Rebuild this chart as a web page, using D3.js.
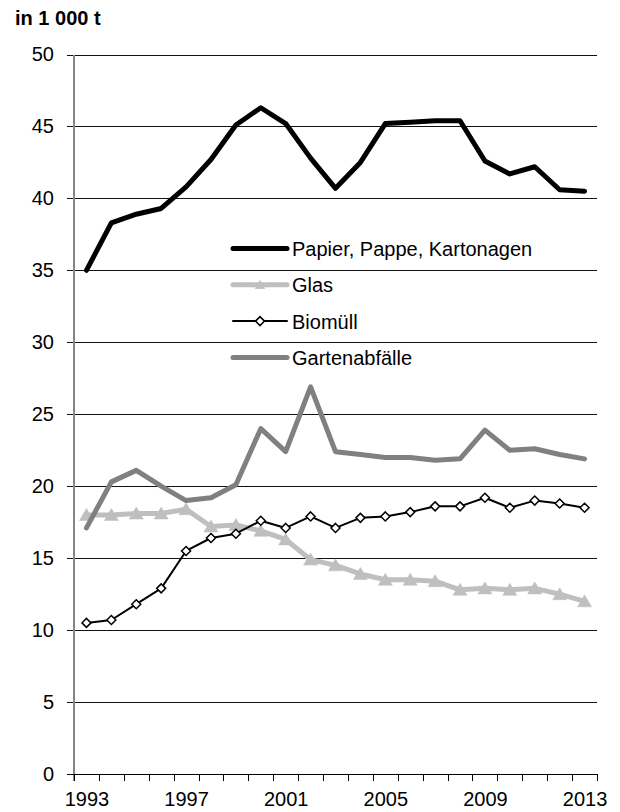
<!DOCTYPE html>
<html>
<head>
<meta charset="utf-8">
<script src="https://cdn.jsdelivr.net/npm/d3@7"></script>
<style>
  html, body { margin: 0; padding: 0; background: #fff; }
  svg { display: block; font-family: "Liberation Sans", Arial, sans-serif; }
</style>
</head>
<body>
<svg id="chart" width="620" height="812"></svg>
<script>
// Years on the category axis
const years = d3.range(1993, 2014);
const yearLabels = [1993, 1997, 2001, 2005, 2009, 2013];
const yTicks = [0, 5, 10, 15, 20, 25, 30, 35, 40, 45, 50];

// Collected quantities, in 1 000 t
const papier = [35.0, 38.3, 38.9, 39.3, 40.8, 42.7, 45.1, 46.3, 45.2, 42.8, 40.7,
                42.5, 45.2, 45.3, 45.4, 45.4, 42.6, 41.7, 42.2, 40.6, 40.5];
const glas = [18.0, 18.0, 18.1, 18.1, 18.4, 17.2, 17.3, 16.9, 16.3, 14.9, 14.5,
              13.9, 13.5, 13.5, 13.4, 12.8, 12.9, 12.8, 12.9, 12.5, 12.0];
const biomuell = [10.5, 10.7, 11.8, 12.9, 15.5, 16.4, 16.7, 17.6, 17.1, 17.9, 17.1,
                  17.8, 17.9, 18.2, 18.6, 18.6, 19.2, 18.5, 19.0, 18.8, 18.5];
const garten = [17.1, 20.3, 21.1, 20.0, 19.0, 19.2, 20.1, 24.0, 22.4, 26.9, 22.4,
                22.2, 22.0, 22.0, 21.8, 21.9, 23.9, 22.5, 22.6, 22.2, 21.9];

const seriesNames = ["Papier, Pappe, Kartonagen", "Glas", "Biomüll", "Gartenabfälle"];

const series = [
  { name: seriesNames[0], values: papier,   color: "#000000", width: 5,   marker: null },
  { name: seriesNames[1], values: glas,     color: "#bfbfbf", width: 5,   marker: "triangle" },
  { name: seriesNames[2], values: biomuell, color: "#000000", width: 2,   marker: "diamond" },
  { name: seriesNames[3], values: garten,   color: "#808080", width: 5,   marker: null }
];

const svg = d3.select("#chart");
const plot = { left: 74, right: 597, top: 54.5, bottom: 774 };

const x = d3.scaleLinear().domain([1992.5, 2013.5]).range([plot.left, plot.right]);
const y = d3.scaleLinear().domain([0, 50]).range([plot.bottom, plot.top]);

// Unit label
svg.append("text")
  .attr("x", 15).attr("y", 25)
  .attr("font-size", 20).attr("font-weight", "bold")
  .attr("fill", "#000")
  .text("in 1 000 t");

// Horizontal gridlines with left ticks and value labels
const yAxis = d3.axisLeft(y)
  .tickValues(yTicks)
  .tickSize(-(plot.right - plot.left + 7))
  .tickPadding(14)
  .tickFormat(d3.format("d"));

const gy = svg.append("g")
  .attr("transform", `translate(${plot.left - 7},0)`)
  .call(yAxis);
gy.select(".domain").remove();
gy.selectAll(".tick line")
  .attr("x1", 0)
  .attr("x2", plot.right - plot.left + 7)
  .attr("stroke", "#111").attr("stroke-width", 1)
  .attr("shape-rendering", "crispEdges");
gy.selectAll(".tick text")
  .attr("x", -(14 - 7) - 6)
  .attr("font-size", 20).attr("fill", "#000")
  .attr("font-family", "Liberation Sans, Arial, sans-serif");

// Left axis line
svg.append("line")
  .attr("x1", plot.left).attr("x2", plot.left)
  .attr("y1", plot.top).attr("y2", plot.bottom + 7)
  .attr("stroke", "#868686").attr("stroke-width", 2)
  .attr("shape-rendering", "crispEdges");

// Bottom axis: tick marks on category boundaries, labels every fourth year
const boundaries = d3.range(1992.5, 2014, 1);
const xAxisTicks = d3.axisBottom(x)
  .tickValues(boundaries)
  .tickSize(7)
  .tickFormat("");
const gx = svg.append("g")
  .attr("transform", `translate(0,${plot.bottom})`)
  .call(xAxisTicks);
gx.select(".domain").remove();
gx.selectAll(".tick line").attr("stroke", "#000").attr("stroke-width", 1)
  .attr("shape-rendering", "crispEdges");
gx.append("line")
  .attr("x1", plot.left - 7).attr("x2", plot.right)
  .attr("stroke", "#000").attr("stroke-width", 1)
  .attr("shape-rendering", "crispEdges");

const xLabelAxis = d3.axisBottom(x)
  .tickValues(yearLabels)
  .tickSize(0)
  .tickPadding(18)
  .tickFormat(d3.format("d"));
const gxl = svg.append("g")
  .attr("transform", `translate(0,${plot.bottom})`)
  .call(xLabelAxis);
gxl.select(".domain").remove();
gxl.selectAll(".tick text")
  .attr("font-size", 20).attr("fill", "#000")
  .attr("font-family", "Liberation Sans, Arial, sans-serif");

// Marker shapes
function triangle(sel, cx, cy, r) {
  sel.append("path")
    .attr("d", `M${cx},${cy - r}L${cx + r * 1.08},${cy + r * 0.85}L${cx - r * 1.08},${cy + r * 0.85}Z`)
    .attr("fill", "#bfbfbf").attr("stroke", "#bfbfbf").attr("stroke-width", 0.5);
}
function diamond(sel, cx, cy) {
  sel.append("path")
    .attr("d", `M${cx},${cy - 4.5}L${cx + 4.5},${cy}L${cx},${cy + 4.5}L${cx - 4.5},${cy}Z`)
    .attr("fill", "#fff").attr("stroke", "#000").attr("stroke-width", 1.5);
}

// Series lines
const line = d3.line()
  .x((d, i) => x(years[i]))
  .y(d => y(d));

series.forEach(s => {
  const g = svg.append("g");
  g.append("path")
    .datum(s.values)
    .attr("d", line)
    .attr("fill", "none")
    .attr("stroke", s.color)
    .attr("stroke-width", s.width)
    .attr("stroke-linejoin", "round")
    .attr("stroke-linecap", "round");
  if (s.marker === "triangle") {
    s.values.forEach((v, i) => triangle(g, x(years[i]), y(v), 6.5));
  } else if (s.marker === "diamond") {
    s.values.forEach((v, i) => diamond(g, x(years[i]), y(v)));
  }
});

// Legend
const legend = svg.append("g");
series.forEach((s, i) => {
  const ly = 248.5 + i * 36.3;
  const g = legend.append("g");
  g.append("line")
    .attr("x1", 233).attr("x2", 287)
    .attr("y1", ly).attr("y2", ly)
    .attr("stroke", s.color).attr("stroke-width", s.width)
    .attr("stroke-linecap", "round");
  if (s.marker === "triangle") triangle(g, 260, ly, 4.5);
  if (s.marker === "diamond") diamond(g, 260, ly);
  g.append("text")
    .attr("x", 292).attr("y", ly + 7.5)
    .attr("font-size", 20).attr("fill", "#000")
    .text(s.name);
});
</script>
</body>
</html>
